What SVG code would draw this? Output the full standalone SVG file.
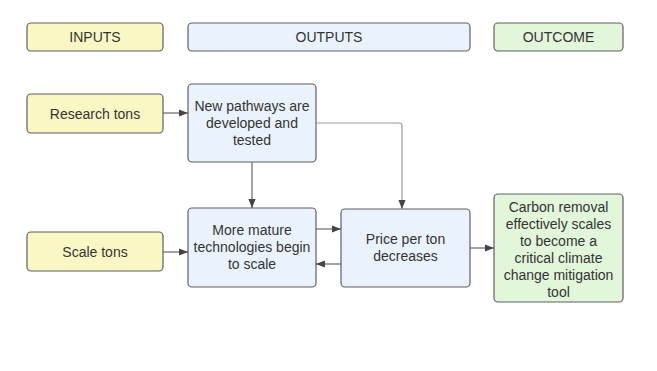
<svg xmlns="http://www.w3.org/2000/svg" width="657" height="371" viewBox="0 0 657 371">
<style>
.box{stroke:#5f5f5f;stroke-width:1.2}
.y{fill:#f9f7c4}
.b{fill:#eaf3fd}
.g{fill:#e2f6da}
text{font-family:"Liberation Sans",Arial,sans-serif;font-size:14px;fill:#333;text-anchor:middle;dominant-baseline:central}
.c{fill:none;stroke:#666;stroke-width:1.2}
</style>
<defs>
<marker id="ah" viewBox="0 0 10 10" refX="10" refY="5" markerWidth="9" markerHeight="9" markerUnits="userSpaceOnUse" orient="auto">
<path d="M0,1 L10,5 L0,9 z" fill="#444"/>
</marker>
</defs>
<rect width="657" height="371" fill="#fff"/>
<g id="inputs"><rect class="box y" x="27" y="23" width="136" height="28" rx="4"/><text x="95" y="37">INPUTS</text></g>
<g id="outputs"><rect class="box b" x="188" y="23" width="282" height="28" rx="4"/><text x="329" y="37">OUTPUTS</text></g>
<g id="outcome"><rect class="box g" x="494" y="23" width="129" height="28" rx="4"/><text x="558.5" y="37">OUTCOME</text></g>
<g id="research"><rect class="box y" x="27" y="94" width="136" height="39" rx="4"/><text x="95" y="113.5">Research tons</text></g>
<g id="scale"><rect class="box y" x="27" y="232" width="136" height="39" rx="4"/><text x="95" y="251.5">Scale tons</text></g>
<g id="pathways"><rect class="box b" x="188" y="84" width="128" height="78" rx="4"/><text x="252" y="106">New pathways are</text><text x="252" y="123">developed and</text><text x="252" y="140">tested</text></g>
<g id="mature"><rect class="box b" x="188" y="208" width="128" height="79" rx="4"/><text x="252" y="230">More mature</text><text x="252" y="247">technologies begin</text><text x="252" y="264">to scale</text></g>
<g id="price"><rect class="box b" x="341" y="209" width="129" height="78" rx="4"/><text x="405.5" y="239">Price per ton</text><text x="405.5" y="256">decreases</text></g>
<g id="carbon"><rect class="box g" x="494" y="194" width="129" height="108" rx="4"/><text x="558.5" y="207">Carbon removal</text><text x="558.5" y="224">effectively scales</text><text x="558.5" y="241">to become a</text><text x="558.5" y="258">critical climate</text><text x="558.5" y="275">change mitigation</text><text x="558.5" y="292">tool</text></g>
<g id="connectors">
<path class="c" d="M163,113 H188" marker-end="url(#ah)"/>
<path class="c" d="M163,252 H188" marker-end="url(#ah)"/>
<path class="c" d="M252,162 V208" marker-end="url(#ah)"/>
<path class="c" style="stroke:#999" d="M316,123 H399 Q402,123 402,126 V209" marker-end="url(#ah)"/>
<path class="c" d="M316,229 H341" marker-end="url(#ah)"/>
<path class="c" d="M341,264 H316" marker-end="url(#ah)"/>
<path class="c" d="M470,248 H494" marker-end="url(#ah)"/>
</g>
</svg>
